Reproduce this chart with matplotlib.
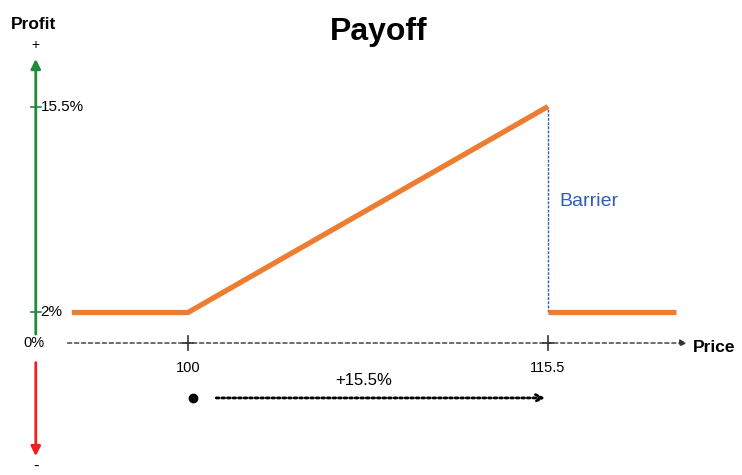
import matplotlib.pyplot as plt

plt.rcParams['font.family'] = ['Liberation Sans', 'DejaVu Sans']

# payoff legs (price, profit %)
rise_price = [95, 100, 115.5]
rise_profit = [2, 2, 15.5]
after_price = [115.5, 121]
after_profit = [2, 2]

strike = 100
barrier = 115.5
coupon = 2
cap = 15.5
y_ticks = [15.5, 2]
y_labels = ['15.5%', '2%']

orange = '#ED7D31'
blue = '#2F5DB8'

fig = plt.figure(figsize=(7.42, 4.75), dpi=100)
ax = fig.add_axes([0, 0, 1, 1])
ax.set_xlim(91.91, 123.85)
ax.set_ylim(-8.65, 22.48)
ax.axis('off')

x0 = 93.45  # vertical axis position

# profit / loss arrows
ax.annotate('', xy=(x0, 18.8), xytext=(x0, 0.4),
            arrowprops=dict(arrowstyle='-|>', color='#1E8C3A', lw=2, mutation_scale=14))
ax.annotate('', xy=(x0, -7.6), xytext=(x0, -1.1),
            arrowprops=dict(arrowstyle='-|>', color='#F01E1E', lw=2, mutation_scale=14))
ax.text(x0, 19.1, '+', ha='center', va='bottom', fontsize=10)
ax.text(x0, -8.1, '-', ha='center', va='center', fontsize=12)
ax.text(x0 - 0.1, 20.9, 'Profit', ha='center', va='center', fontsize=12.5, fontweight='bold')
ax.text(x0 - 0.1, 0, '0%', ha='center', va='center', fontsize=10.5)

for v, lab in zip(y_ticks, y_labels):
    ax.plot([x0 - 0.22, x0 + 0.22], [v, v], color='#1E8C3A', lw=1.2)
    ax.text(x0 + 0.2, v, lab, ha='left', va='center', fontsize=11)

# price axis
ax.annotate('', xy=(121.6, 0), xytext=(94.7, 0),
            arrowprops=dict(arrowstyle='-|>', color='#333333', lw=1,
                            linestyle=(0, (3, 2)), mutation_scale=10))
ax.text(121.75, -0.3, 'Price', ha='left', va='center', fontsize=12.5, fontweight='bold')
for p in [strike, barrier]:
    ax.plot([p, p], [-0.45, 0.45], color='#333333', lw=1.2)
    ax.plot([p - 0.2, p + 0.2], [0, 0], color='#333333', lw=1.2)
    ax.text(p, -1.65, f'{p:g}', ha='center', va='center', fontsize=10.5)

# +15.5% span
ax.plot([strike + 0.2], [-3.6], 'o', color='black', ms=6)
ax.annotate('', xy=(barrier, -3.6), xytext=(strike + 1.1, -3.6),
            arrowprops=dict(arrowstyle='->', color='black', lw=2,
                            linestyle=(0, (1, 1)), mutation_scale=12))
ax.text((strike + barrier) / 2 - 0.2, -2.45, '+15.5%', ha='center', va='center', fontsize=12)

# barrier
ax.plot([barrier, barrier], [coupon, cap], color=blue, lw=1, linestyle=(0, (2, 1)))
ax.text(barrier + 0.5, 9.3, 'Barrier', ha='left', va='center', fontsize=14, color=blue)

# payoff
ax.plot(rise_price, rise_profit, color=orange, lw=3.8, solid_capstyle='butt')
ax.plot(after_price, after_profit, color=orange, lw=3.8, solid_capstyle='butt')

ax.text(108.2, 20.4, 'Payoff', ha='center', va='center', fontsize=23, fontweight='bold')

fig.savefig('out.png', dpi=100)
